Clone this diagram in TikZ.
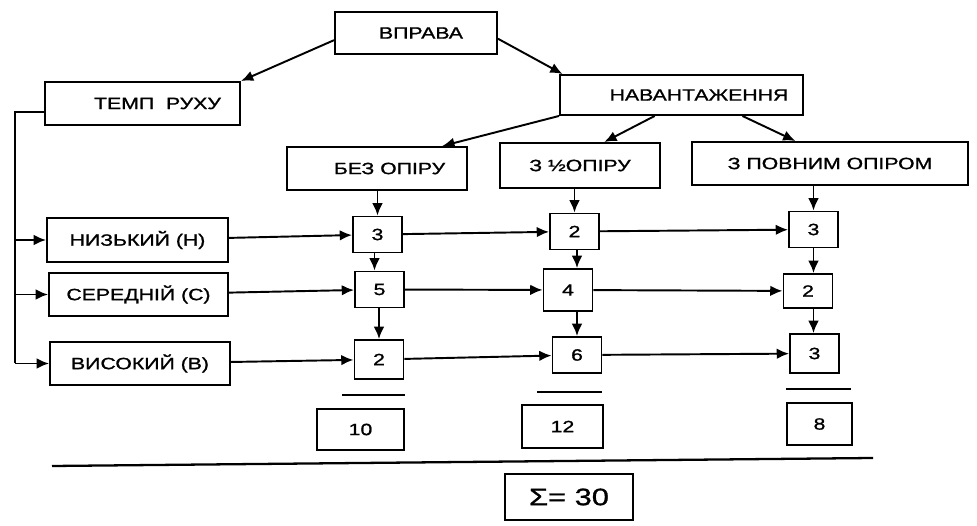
\documentclass[tikz,border=0pt]{standalone}
\usepackage{fontspec}
\setmainfont{Liberation Sans}[FakeStretch=1.3, FakeBold=1.2]
\usetikzlibrary{positioning, arrows.meta}

\begin{document}
\begin{tikzpicture}[
    box/.style={draw, line width=1.1pt, inner sep=0pt, font=\fontsize{9.3}{11}\selectfont},
    num/.style={box, minimum width=0.98cm, minimum height=0.72cm},
    total/.style={box, minimum height=0.84cm},
    link/.style={-{Latex[length=7pt,width=6pt]}, line width=1.1pt},
    rule/.style={line width=1.3pt}
]
\useasboundingbox (0,0) rectangle (19.54,-10.52);

% --- вправа і навантаження ---
\node[box, minimum width=3.24cm, minimum height=0.84cm] (vprava) at (8.32,-0.66) {\hspace{0.2cm}ВПРАВА};
\node[box, minimum width=3.9cm, minimum height=0.86cm] (temp) at (2.85,-2.07) {\hspace{0.6cm}ТЕМП\ \ РУХУ};
\node[box, minimum width=4.86cm, minimum height=0.8cm] (nav) at (13.63,-1.9) {\hspace{0.7cm}НАВАНТАЖЕННЯ};
\node[box, minimum width=3.6cm, minimum height=0.86cm] (bez) at (7.54,-3.37) {\hspace{0.5cm}БЕЗ ОПІРУ};
\node[box, minimum width=3.2cm, minimum height=0.9cm] (half) at (11.6,-3.31) {З ½ОПІРУ};
\node[box, minimum width=5.52cm, minimum height=0.86cm] (full) at (16.6,-3.27) {З ПОВНИМ ОПІРОМ};

\draw[link] (vprava.185) -- (temp.north east);
\draw[link] (vprava.-4) -- (nav.170);
\draw[link] (nav.south west) -- (bez.19);
\draw[link] (nav.218) -- (half.44);
\draw[link] (nav.-19) -- (full.147);

% --- темп руху ---
\node[box, minimum width=3.62cm, minimum height=0.88cm] (low) at (2.75,-4.8) {НИЗЬКИЙ (Н)};
\node[box, minimum width=3.58cm, minimum height=0.86cm] (mid) at (2.77,-5.89) {СЕРЕДНІЙ (С)};
\node[box, minimum width=3.6cm, minimum height=0.86cm] (high) at (2.8,-7.27) {ВИСОКИЙ (В)};

\coordinate (bus) at (0.3,-2.24);
\draw[line width=1.1pt] ([yshift=-0.17cm]temp.west) -| (bus |- high.west);
\draw[link] (bus |- low.west) -- (low.west);
\draw[link] (bus |- mid.west) -- (mid.west);
\draw[link] (bus |- high.west) -- (high.west);

% --- бали ---
\node[num] (a1) at (7.55,-4.69) {3};
\node[num] (a2) at (7.59,-5.79) {5};
\node[num, minimum height=0.78cm] (a3) at (7.58,-7.19) {2};
\node[num] (b1) at (11.49,-4.63) {2};
\node[num, minimum height=0.84cm] (b2) at (11.36,-5.8) {4};
\node[num] (b3) at (11.54,-7.1) {6};
\node[num] (c1) at (16.27,-4.59) {3};
\node[num, minimum height=0.68cm] (c2) at (16.16,-5.82) {2};
\node[num, minimum height=0.78cm] (c3) at (16.29,-7.07) {3};

\draw[link] (a1.north |- bez.south) -- (a1.north);
\draw[link] ([xshift=-0.1cm]a2.north |- a1.south) -- ([xshift=-0.1cm]a2.north);
\draw[link] (a3.north |- a2.south) -- (a3.north);
\draw[link] (b1.north |- half.south) -- (b1.north);
\draw[link] (b3.north |- b1.south) -- (b3.north |- b2.north);
\draw[link] (b3.north |- b2.south) -- (b3.north);
\draw[link] (c1.north |- full.south) -- (c1.north);
\draw[link] (c1.south) -- (c1.south |- c2.north);
\draw[link] (c1.south |- c2.south) -- (c1.south |- c3.north);

\draw[link] (low) -- (a1);
\draw[link] (a1) -- (b1);
\draw[link] (b1) -- (c1);
\draw[link] (mid) -- (a2);
\draw[link] (a2) -- (b2);
\draw[link] (b2) -- (c2);
\draw[link] (high) -- (a3);
\draw[link] (a3) -- (b3);
\draw[link] (b3) -- (c3);

% --- суми ---
\draw[rule] (6.84,-7.9) -- (8.1,-7.9);
\draw[rule] (10.74,-7.84) -- (12.04,-7.84);
\draw[rule] (15.72,-7.78) -- (17.02,-7.78);
\node[total, minimum width=1.74cm, minimum height=0.82cm] (s1) at (7.21,-8.59) {10};
\node[total, minimum width=1.62cm, minimum height=0.86cm] (s2) at (11.25,-8.53) {12};
\node[total, minimum width=1.3cm] (s3) at (16.39,-8.48) {8};

\draw[rule] (1.04,-9.32) -- (17.46,-9.16);
\node[box, minimum width=2.56cm, minimum height=0.92cm, font=\fontsize{13.5}{15}\selectfont] (sum) at (11.38,-9.94) {Σ= 30};
\end{tikzpicture}
\end{document}
